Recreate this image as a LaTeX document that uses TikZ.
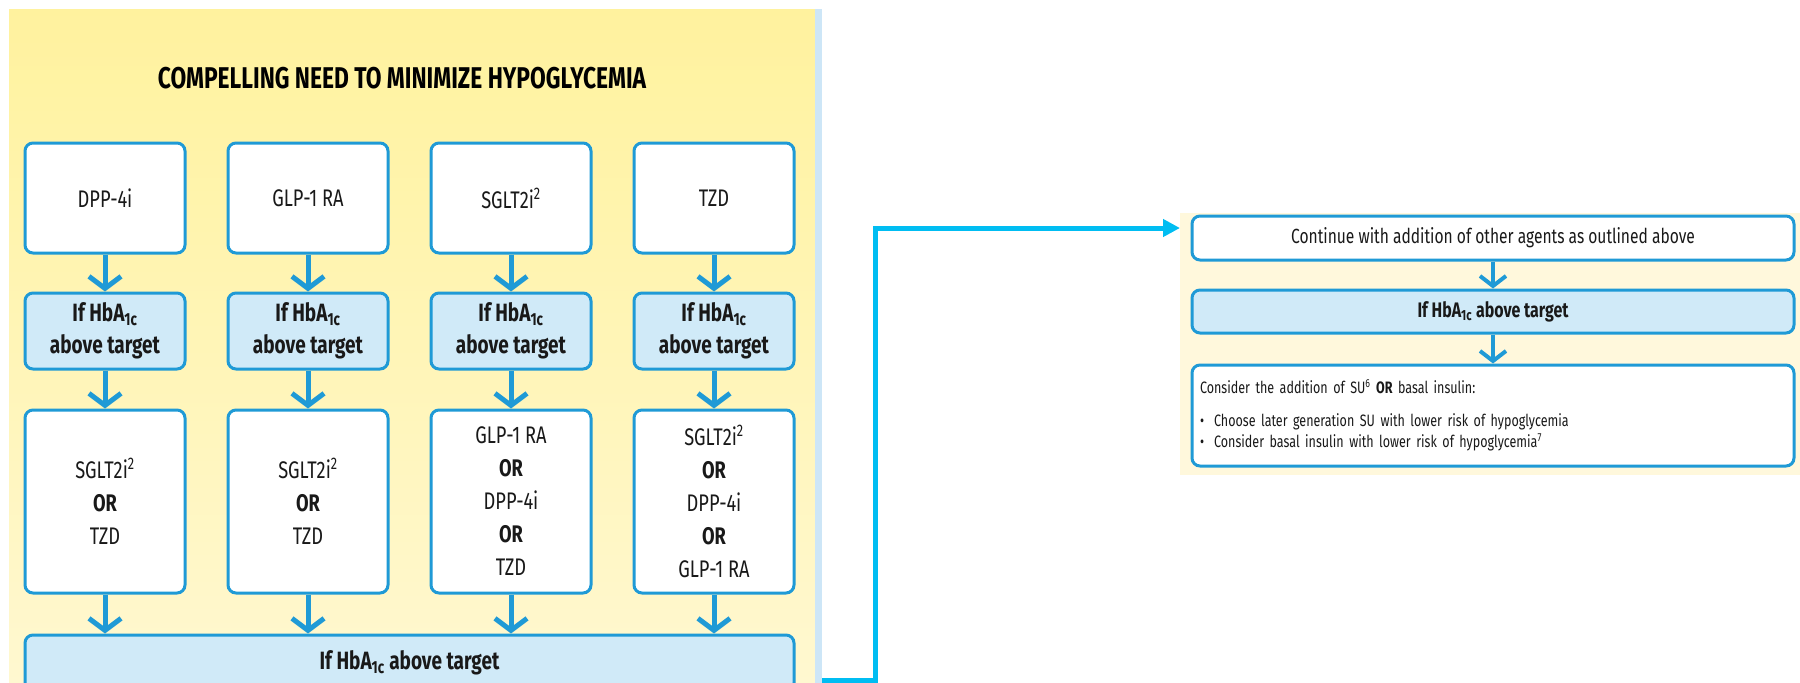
\documentclass[tikz,border=0pt]{standalone}
\usepackage{fontspec}
\setmainfont{Fira Sans}[FakeStretch=0.76]
\usetikzlibrary{arrows.meta,positioning}

\definecolor{edgeblue}{HTML}{1F9AD6}
\definecolor{checkfill}{HTML}{D0EAF8}
\definecolor{linkblue}{HTML}{00BDF2}
\definecolor{padtop}{HTML}{FFF29E}
\definecolor{padbottom}{HTML}{FFF8D0}
\definecolor{cream}{HTML}{FFF8DC}
\definecolor{stripblue}{HTML}{CDE6F7}

\newcommand{\hba}{HbA\textsubscript{1c}}
\newcommand{\sglt}{SGLT2i\textsuperscript{2}}

\tikzset{
  drug/.style={draw=edgeblue, line width=3pt, rounded corners=8pt, fill=white,
    minimum width=160pt, inner sep=0pt, align=center, text=black!90,
    font=\fontsize{24}{33}\selectfont},
  check/.style={drug, fill=checkfill, font=\bfseries\fontsize{25}{32}\selectfont},
  flow/.style={edgeblue, line width=5pt, -{Straight Barb[length=12pt,width=32pt]}},
  link/.style={linkblue, line width=5pt, -{Triangle[length=17pt,width=17pt]}},
}

\begin{document}
\begin{tikzpicture}[x=1pt,y=-1pt]
  \useasboundingbox (0,0) rectangle (1800,683);
  \begin{scope}
    \clip (0,0) rectangle (1800,683);
    % yellow panel with the four columns
    \fill[top color=padtop, bottom color=padbottom] (9,9) rectangle (815,683);
    \fill[stripblue] (815,9) rectangle (822,683);
    \node[font=\bfseries\fontsize{30}{34}\selectfont] (title) at (402,78)
      {COMPELLING NEED TO MINIMIZE HYPOGLYCEMIA};

    \foreach \i/\x/\first/\second in {
      1/105/{DPP-4i}/{\sglt\\\textbf{OR}\\TZD},
      2/308/{GLP-1 RA}/{\sglt\\\textbf{OR}\\TZD},
      3/511/{\sglt}/{GLP-1 RA\\\textbf{OR}\\DPP-4i\\\textbf{OR}\\TZD},
      4/714/{TZD}/{\sglt\\\textbf{OR}\\DPP-4i\\\textbf{OR}\\GLP-1 RA}} {
      \node[drug, minimum height=110pt] (a\i) at (\x,198) {\first};
      \node[check, minimum height=76pt] (c\i) at (\x,331) {If \hba\\above target};
      \node[drug, minimum height=183pt] (b\i) at (\x,501.5) {\second};
      \draw[flow] (a\i) -- (c\i);
      \draw[flow] (c\i) -- (b\i);
    }
    \node[check, minimum width=769pt, minimum height=56pt] (wide) at (409.5,663)
      {If \hba{} above target};
    \foreach \i in {1,...,4}
      \draw[flow] (b\i) -- (b\i |- wide.north);
  \end{scope}

  % continuation on the right
  \node[fill=cream, minimum width=620pt, minimum height=262pt, inner sep=0pt,
    anchor=north west] (rpad) at (1180,213) {};
  \node[drug, minimum width=602pt, minimum height=44pt, font=\fontsize{20.5}{22}\selectfont]
    (cont) at (1493,238) {Continue with addition of other agents as outlined above};
  \node[check, minimum width=602pt, minimum height=43pt, font=\bfseries\fontsize{21}{22}\selectfont]
    (recheck) at (1493,311.5) {If \hba{} above target};
  \node[drug, minimum height=101pt, inner xsep=8pt, text width=586pt, align=left,
    font=\fontsize{16.5}{21}\selectfont] (addon) at (1493,415.5)
    {Consider the addition of SU\textsuperscript{6} \textbf{OR} basal insulin:\\[12pt]
     \textbullet\hspace{10pt}Choose later generation SU with lower risk of hypoglycemia\\
     \textbullet\hspace{10pt}Consider basal insulin with lower risk of hypoglycemia\textsuperscript{7}};
  \draw[flow, line width=4pt, -{Straight Barb[length=10pt,width=26pt]}] (cont) -- (recheck);
  \draw[flow, line width=4pt, -{Straight Barb[length=10pt,width=26pt]}] (recheck) -- (addon);

  \coordinate (out) at (822,680);
  \coordinate (bend) at (875,228);
  \draw[link] (out) -| (bend) -- (bend -| rpad.west);
\end{tikzpicture}
\end{document}
